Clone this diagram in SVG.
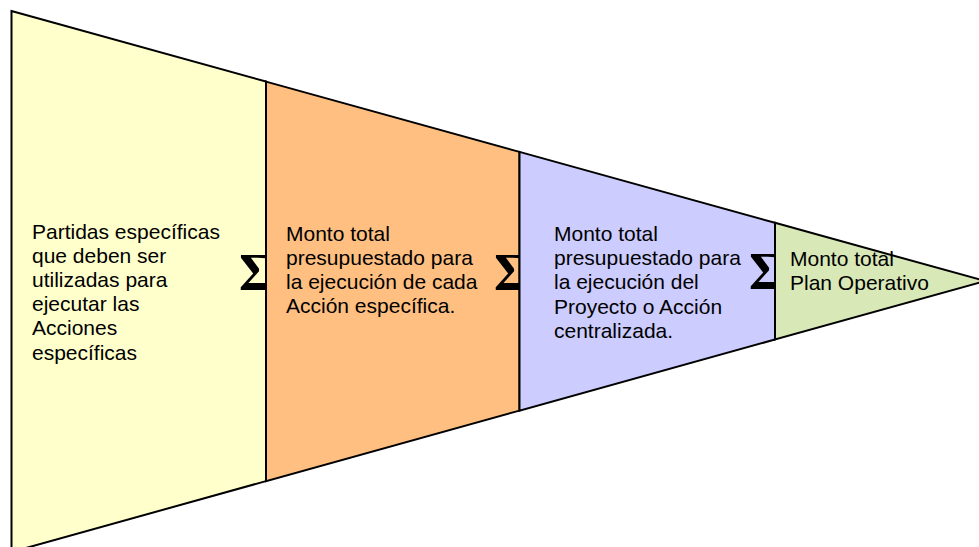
<svg xmlns="http://www.w3.org/2000/svg" width="979" height="547" viewBox="0 0 979 547">
<style>
.sec{stroke:#000;stroke-width:2;stroke-linejoin:miter}
.t{font-family:"Liberation Sans",Arial,sans-serif;font-size:21px;fill:#000}
.sig{font-family:"Liberation Serif","Times New Roman",serif;font-size:53px;font-weight:bold;fill:#000}
</style>
<rect width="979" height="547" fill="#fff"/>
<g id="node-partidas">
<polygon class="sec" fill="#FFFFCC" points="11.5,11 266,81.6 266,481.1 11.5,552"/>
<text class="t">
<tspan x="32" y="238.5">Partidas específicas</tspan>
<tspan x="32" y="262.7">que deben ser</tspan>
<tspan x="32" y="286.9">utilizadas para</tspan>
<tspan x="32" y="311.1">ejecutar las</tspan>
<tspan x="32" y="335.3">Acciones</tspan>
<tspan x="32" y="359.5">específicas</tspan>
</text>
<text class="sig" x="239" y="290">Σ</text>
</g>
<g id="node-accion">
<polygon class="sec" fill="#FFBF80" points="266,81.6 519.5,151.9 519.5,410.6 266,481.1"/>
<text class="t">
<tspan x="286" y="241">Monto total</tspan>
<tspan x="286" y="265.1">presupuestado para</tspan>
<tspan x="286" y="289.2">la ejecución de cada</tspan>
<tspan x="286" y="313.3">Acción específica.</tspan>
</text>
<text class="sig" x="494" y="290">Σ</text>
</g>
<g id="node-proyecto">
<polygon class="sec" fill="#CCCCFF" points="519.5,151.9 775,222.8 775,339.5 519.5,410.6"/>
<text class="t">
<tspan x="554" y="241">Monto total</tspan>
<tspan x="554" y="265.2">presupuestado para</tspan>
<tspan x="554" y="289.4">la ejecución del</tspan>
<tspan x="554" y="313.6">Proyecto o Acción</tspan>
<tspan x="554" y="337.8">centralizada.</tspan>
</text>
<text class="sig" x="749" y="289">Σ</text>
</g>
<g id="node-plan">
<polygon class="sec" fill="#D8E8B6" points="775,222.8 985,281 775,339.5"/>
<text class="t">
<tspan x="790" y="265.5">Monto total</tspan>
<tspan x="790" y="289.5">Plan Operativo</tspan>
</text>
</g>
<g id="connectors"/>
</svg>
